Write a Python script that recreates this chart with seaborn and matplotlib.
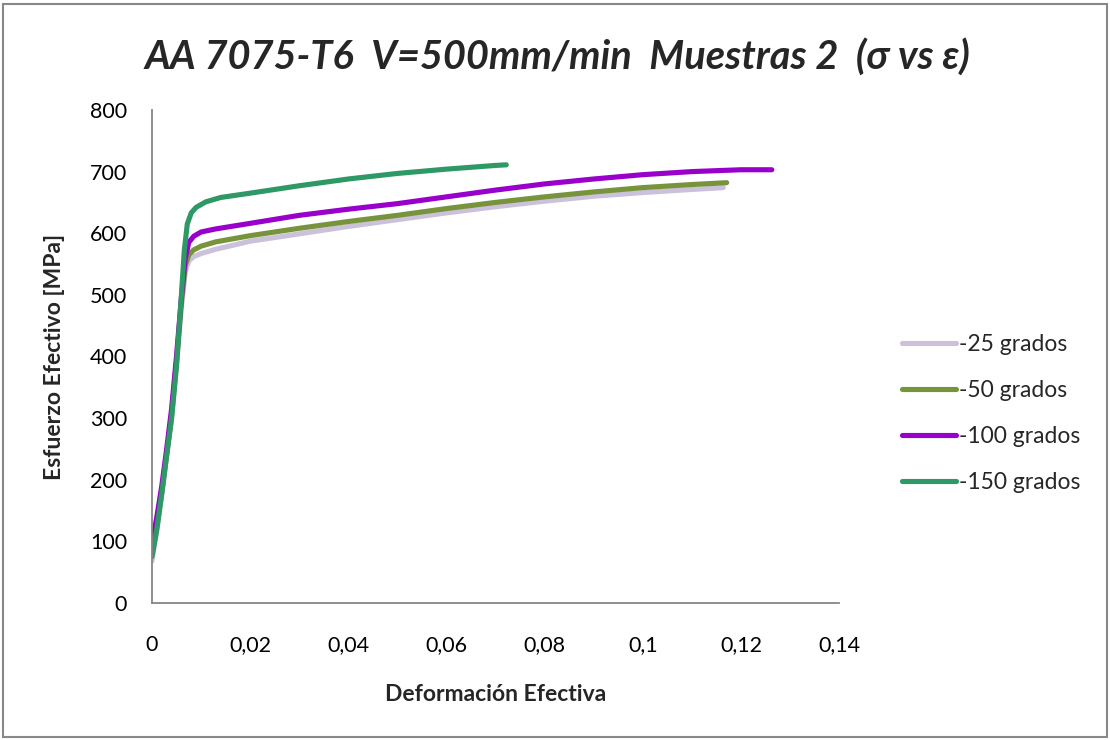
import matplotlib
matplotlib.use("Agg")
import matplotlib.pyplot as plt
import matplotlib.patches as mpatches
import seaborn as sns

sns.set_style("white")
plt.rcParams["font.family"] = ["Lato", "DejaVu Sans"]

# Stress-strain curves, AA 7075-T6 at 500 mm/min
strain_25 = [0, 0.001, 0.002, 0.003, 0.004, 0.005, 0.006, 0.0068, 0.0075, 0.0085, 0.01, 0.013,
             0.02, 0.03, 0.04, 0.05, 0.06, 0.07, 0.08, 0.09, 0.1, 0.11, 0.1164]
stress_25 = [68, 118, 175, 238, 300, 385, 480, 538, 555, 562, 567, 574,
             587, 599, 611, 622, 633, 643, 652, 660, 666, 671, 674]

strain_50 = [0, 0.001, 0.002, 0.003, 0.004, 0.005, 0.006, 0.0068, 0.0075, 0.0085, 0.01, 0.013,
             0.02, 0.03, 0.04, 0.05, 0.06, 0.07, 0.08, 0.09, 0.1, 0.11, 0.1171]
stress_50 = [78, 125, 180, 242, 305, 392, 488, 548, 565, 573, 579, 586,
             596, 608, 619, 629, 640, 650, 659, 667, 674, 679, 682]

strain_100 = [0, 0.001, 0.002, 0.003, 0.004, 0.005, 0.006, 0.0068, 0.0075, 0.0085, 0.01, 0.013,
              0.02, 0.03, 0.04, 0.05, 0.06, 0.07, 0.08, 0.09, 0.1, 0.11, 0.12, 0.1263]
stress_100 = [97, 140, 190, 250, 315, 400, 495, 560, 585, 595, 602, 607,
              616, 629, 639, 648, 659, 670, 680, 688, 695, 700, 703, 703]

strain_150 = [0, 0.001, 0.002, 0.003, 0.004, 0.005, 0.006, 0.0066, 0.0072, 0.008, 0.009, 0.011,
              0.014, 0.02, 0.03, 0.04, 0.05, 0.06, 0.07, 0.0722]
stress_150 = [75, 120, 178, 240, 300, 385, 500, 573, 615, 633, 642, 651,
              658, 665, 677, 688, 697, 704, 710, 711]

series_labels = ["-25 grados", "-50 grados", "-100 grados", "-150 grados"]
series_colors = ["#ccc1da", "#77933c", "#9900cc", "#2e9866"]

x_ticks = [0, 0.02, 0.04, 0.06, 0.08, 0.1, 0.12, 0.14]
x_tick_labels = ["0", "0,02", "0,04", "0,06", "0,08", "0,1", "0,12", "0,14"]
y_ticks = [0, 100, 200, 300, 400, 500, 600, 700, 800]

fig = plt.figure(figsize=(11.1, 7.4), dpi=100)
ax = fig.add_axes([0.1369, 0.1851, 0.6190, 0.6663])

curves = [(strain_25, stress_25), (strain_50, stress_50),
          (strain_100, stress_100), (strain_150, stress_150)]
for (xs, ys), lab, col in zip(curves, series_labels, series_colors):
    sns.lineplot(x=xs, y=ys, ax=ax, color=col, linewidth=3.7, label=lab,
                 sort=False, estimator=None, solid_capstyle="round",
                 solid_joinstyle="round")

ax.set_xlim(0, 0.14)
ax.set_ylim(0, 800)
ax.set_xticks(x_ticks)
ax.set_xticklabels(x_tick_labels)
ax.set_yticks(y_ticks)

gray = "#868686"
for side in ["top", "right"]:
    ax.spines[side].set_visible(False)
for side in ["left", "bottom"]:
    ax.spines[side].set_color(gray)
    ax.spines[side].set_linewidth(1.3)
ax.tick_params(axis="both", direction="out", length=5, width=1.1, color=gray,
               labelsize=15.5, labelcolor="black")
ax.tick_params(axis="x", pad=18)
ax.tick_params(axis="y", pad=13)
ax.grid(False)

ax.set_xlabel("Deformación Efectiva", fontsize=16.5, fontweight="bold")
ax.set_ylabel("Esfuerzo Efectivo [MPa]", fontsize=16.5, fontweight="bold")
ax.xaxis.set_label_coords(0.5, -0.165)
ax.yaxis.set_label_coords(-0.127, 0.5)

fig.text(0.502, 1 - 57 / 740, "AA 7075-T6  V=500mm/min  Muestras 2  (σ vs ε)",
         ha="center", va="center", fontsize=28.6, fontweight="bold", style="italic")

leg = ax.legend(loc="center left", bbox_to_anchor=(0.8126, 0.441),
                bbox_transform=fig.transFigure, frameon=False, fontsize=16.5,
                handlelength=2.35, handletextpad=0.15, labelspacing=1.1,
                borderpad=0, borderaxespad=0)
for h in leg.get_lines():
    h.set_linewidth(3.7)

fig.patches.append(mpatches.Rectangle((0.003, 0.004), 0.994, 0.99, transform=fig.transFigure,
                                      fill=False, edgecolor="#888888", linewidth=1.5))

fig.savefig("out.png", dpi=100)
